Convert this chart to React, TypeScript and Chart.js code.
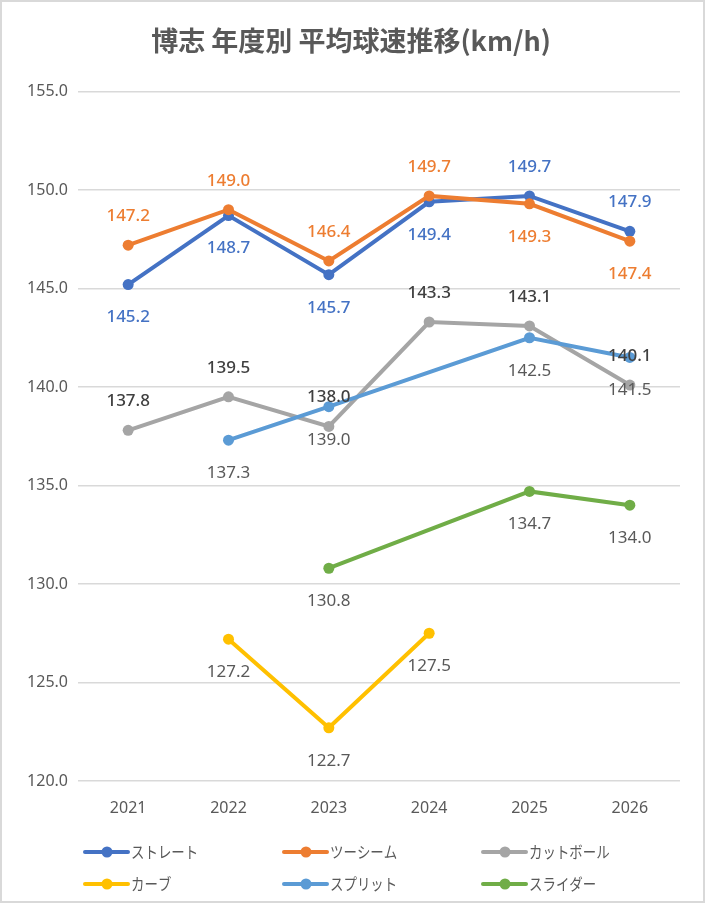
import React, { useEffect, useRef } from "react";
import { Chart, registerables } from "chart.js";

Chart.register(...registerables);

const TITLE = "博志 年度別 平均球速推移(km/h)";
const years = ["2021", "2022", "2023", "2024", "2025", "2026"];
const seriesNames = ["ストレート", "ツーシーム", "カットボール", "カーブ", "スプリット", "スライダー"];
const straight = [145.2, 148.7, 145.7, 149.4, 149.7, 147.9];
const twoSeam = [147.2, 149.0, 146.4, 149.7, 149.3, 147.4];
const cutter = [137.8, 139.5, 138.0, 143.3, 143.1, 140.1];
const curve = [null, 127.2, 122.7, 127.5, null, null];
const splitter = [null, 137.3, 139.0, null, 142.5, 141.5];
const slider = [null, null, 130.8, null, 134.7, 134.0];
const yMin = 120;
const yMax = 155;
const yStep = 5;

// styles (kept apart from the data)
const lineColors = ["#4472C4", "#ED7D31", "#A5A5A5", "#FFC000", "#5B9BD5", "#70AD47"];
const labelColors = ["#4472C4", "#ED7D31", "#404040", "#595959", "#595959", "#595959"];
const labelPlacement = [
  ["b", "b", "b", "b", "a", "a"],
  ["a", "a", "a", "a", "b", "b"],
  ["a", "a", "a", "a", "a", "a"],
  ["b", "b", "b", "b", "b", "b"],
  ["b", "b", "b", "b", "b", "b"],
  ["b", "b", "b", "b", "b", "b"],
];

const FONT = "'Segoe UI', 'Noto Sans', 'Noto Sans CJK JP', sans-serif";
const CJK = "'Noto Sans CJK JP', 'Noto Sans', sans-serif";

const framePlugin = {
  id: "frame",
  beforeDraw(chart: any) {
    const { ctx, width, height } = chart;
    ctx.save();
    ctx.fillStyle = "#ffffff";
    ctx.fillRect(0, 0, width, height);
    ctx.strokeStyle = "#D9D9D9";
    ctx.lineWidth = 2;
    ctx.strokeRect(1, 1, width - 2, height - 2);
    ctx.restore();
  },
};

const dataLabelPlugin = {
  id: "dataLabels",
  afterDatasetsDraw(chart: any) {
    const { ctx } = chart;
    ctx.save();
    ctx.textAlign = "center";
    ctx.textBaseline = "middle";
    chart.data.datasets.forEach((ds: any, i: number) => {
      const meta = chart.getDatasetMeta(i);
      ctx.fillStyle = labelColors[i];
      ctx.font = (i < 3 ? "500 " : "400 ") + "17px " + FONT;
      meta.data.forEach((pt: any, j: number) => {
        const v = ds.data[j];
        if (v === null || v === undefined) return;
        const above = labelPlacement[i][j] === "a";
        const y = above ? pt.y - 29 : pt.y + 33;
        ctx.fillText(Number(v).toFixed(1), pt.x, y);
      });
    });
    ctx.restore();
  },
};

const legendPlugin = {
  id: "gridLegend",
  afterDraw(chart: any) {
    const { ctx } = chart;
    const colX = [85, 284, 483];
    const rowY = [852, 884];
    ctx.save();
    chart.data.datasets.forEach((ds: any, i: number) => {
      const x0 = colX[i % 3];
      const y0 = rowY[Math.floor(i / 3)];
      ctx.strokeStyle = ds.borderColor;
      ctx.lineWidth = 4;
      ctx.lineCap = "round";
      ctx.beginPath();
      ctx.moveTo(x0, y0);
      ctx.lineTo(x0 + 43, y0);
      ctx.stroke();
      ctx.fillStyle = ds.borderColor;
      ctx.beginPath();
      ctx.arc(x0 + 22, y0, 5.5, 0, Math.PI * 2);
      ctx.fill();
      ctx.fillStyle = "#595959";
      ctx.font = "16px " + CJK;
      ctx.textAlign = "left";
      ctx.textBaseline = "middle";
      ctx.save();
      ctx.translate(x0 + 46, y0);
      ctx.scale(0.84, 1);
      ctx.fillText(ds.label, 0, 0);
      ctx.restore();
    });
    ctx.restore();
  },
};

export default function App() {
  const ref = useRef<HTMLCanvasElement | null>(null);
  useEffect(() => {
    document.body.style.margin = "0";
    const allSeries = [straight, twoSeam, cutter, curve, splitter, slider];
    const chart = new Chart(ref.current as HTMLCanvasElement, {
      type: "line",
      data: {
        labels: years,
        datasets: allSeries.map((d, i) => ({
          label: seriesNames[i],
          data: d,
          borderColor: lineColors[i],
          backgroundColor: lineColors[i],
          pointBackgroundColor: lineColors[i],
          pointBorderColor: lineColors[i],
          borderWidth: 4,
          pointRadius: 5.5,
          pointBorderWidth: 0,
          tension: 0,
          spanGaps: true,
          order: 6 - i,
          fill: false,
        })),
      },
      options: {
        responsive: false,
        animation: false,
        devicePixelRatio: 1,
        layout: { padding: { top: 18, right: 25, bottom: 77, left: 22 } },
        plugins: {
          legend: { display: false },
          tooltip: { enabled: false },
          title: {
            display: true,
            text: TITLE,
            color: "#595959",
            font: { family: CJK, size: 27, weight: "600", lineHeight: 1.2 },
            padding: { top: 6.8, bottom: 34.3 },
          },
        },
        scales: {
          x: {
            type: "category",
            offset: true,
            grid: { display: false, drawTicks: false },
            border: { display: false },
            ticks: { color: "#595959", font: { family: FONT, size: 16 }, padding: 18 },
            afterFit(scale: any) {
              scale.height = 45;
            },
          },
          y: {
            min: yMin,
            max: yMax,
            grid: { color: "#D9D9D9", lineWidth: 1.5, drawTicks: false },
            border: { display: false },
            ticks: {
              stepSize: yStep,
              color: "#595959",
              font: { family: FONT, size: 16 },
              padding: 10,
              callback: (v: any) => Number(v).toFixed(1),
            },
            afterFit(scale: any) {
              scale.width = 56;
            },
          },
        },
      },
      plugins: [framePlugin, dataLabelPlugin, legendPlugin],
    });
    return () => chart.destroy();
  }, []);
  return (
    <div style={{ width: 705, height: 903 }}>
      <canvas ref={ref} width={705} height={903} style={{ display: "block" }} />
    </div>
  );
}
